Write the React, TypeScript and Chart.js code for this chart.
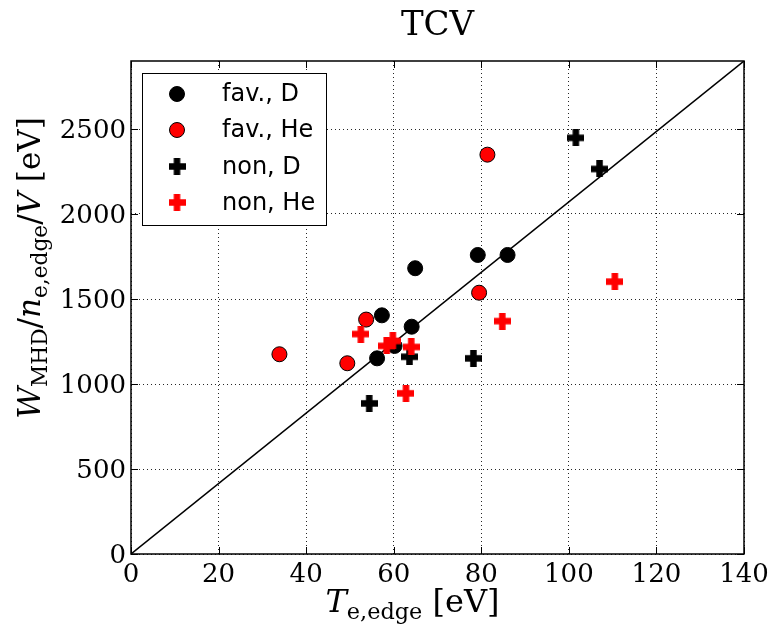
import React, { useEffect, useRef } from "react";
import { Chart, registerables } from "chart.js";

Chart.register(...registerables);

// ---- data ----
const favD_T = [56.2, 57.3, 60.2, 64.1, 64.9, 79.2, 86.0];
const favD_W = [1151, 1404, 1224, 1337, 1681, 1759, 1759];
const favHe_T = [33.9, 49.4, 53.7, 79.5, 81.4];
const favHe_W = [1175, 1122, 1379, 1537, 2349];
const nonD_T = [54.4, 63.6, 78.2, 101.6, 107.0];
const nonD_W = [886, 1160, 1151, 2448, 2265];
const nonHe_T = [52.5, 58.4, 59.8, 64.0, 62.8, 84.8, 110.5];
const nonHe_W = [1294, 1224, 1253, 1218, 945, 1370, 1602];
const lineT = [0, 140];
const lineW = [0, 2900];
const xTicks = [0, 20, 40, 60, 80, 100, 120, 140];
const yTicks = [0, 500, 1000, 1500, 2000, 2500];
const seriesLabels = ["fav., D", "fav., He", "non, D", "non, He"];
const titleText = "TCV";

const SERIF = "'DejaVu Serif'";
const SANS = "'DejaVu Sans'";

function zip(xs: number[], ys: number[]) {
  return xs.map((x, i) => ({ x, y: ys[i] }));
}

function makeCross(color: string) {
  const c = document.createElement("canvas");
  const s = 17;
  const t = 6.5;
  c.width = s;
  c.height = s;
  const g = c.getContext("2d")!;
  g.fillStyle = color;
  const o = (s - t) / 2;
  g.fillRect(0, o, s, t);
  g.fillRect(o, 0, t, s);
  return c;
}

type Seg = { t: string; it?: boolean; sub?: boolean };

function drawRich(
  ctx: CanvasRenderingContext2D,
  segs: Seg[],
  size: number,
  cx: number,
  cy: number,
  rot: number
) {
  const fontFor = (s: Seg) =>
    `${s.it ? "italic " : ""}${s.sub ? size * 0.7 : size}px ${SERIF}`;
  const widths = segs.map((s) => {
    ctx.font = fontFor(s);
    return ctx.measureText(s.t).width;
  });
  const total = widths.reduce((a, b) => a + b, 0);
  ctx.save();
  ctx.translate(cx, cy);
  ctx.rotate(rot);
  ctx.fillStyle = "#000";
  ctx.textBaseline = "alphabetic";
  ctx.textAlign = "left";
  let x = -total / 2;
  segs.forEach((s, i) => {
    ctx.font = fontFor(s);
    ctx.fillText(s.t, x, s.sub ? size * 0.22 : 0);
    x += widths[i];
  });
  ctx.restore();
}

const decorPlugin = {
  id: "decor",
  afterDraw(chart: any) {
    const ctx: CanvasRenderingContext2D = chart.ctx;
    const a = chart.chartArea;
    const xs = chart.scales.x;
    const ys = chart.scales.y;

    // frame
    ctx.save();
    ctx.strokeStyle = "#000";
    ctx.lineWidth = 1.5;
    ctx.strokeRect(a.left, a.top, a.right - a.left, a.bottom - a.top);
    // inward ticks on all sides
    ctx.lineWidth = 1;
    const tl = 7;
    ctx.beginPath();
    xTicks.forEach((v) => {
      const px = Math.round(xs.getPixelForValue(v)) + 0.5;
      ctx.moveTo(px, a.bottom);
      ctx.lineTo(px, a.bottom - tl);
      ctx.moveTo(px, a.top);
      ctx.lineTo(px, a.top + tl);
    });
    yTicks.forEach((v) => {
      const py = Math.round(ys.getPixelForValue(v)) + 0.5;
      ctx.moveTo(a.left, py);
      ctx.lineTo(a.left + tl, py);
      ctx.moveTo(a.right, py);
      ctx.lineTo(a.right - tl, py);
    });
    ctx.stroke();
    ctx.restore();

    // title
    ctx.save();
    ctx.fillStyle = "#000";
    ctx.font = `34px ${SERIF}`;
    ctx.textAlign = "center";
    ctx.textBaseline = "alphabetic";
    ctx.fillText(titleText, (a.left + a.right) / 2, 35);
    ctx.restore();

    // axis labels
    drawRich(
      ctx,
      [
        { t: "T", it: true },
        { t: "e,edge", sub: true },
        { t: " [eV]" },
      ],
      32,
      (a.left + a.right) / 2 - 25,
      612,
      0
    );
    drawRich(
      ctx,
      [
        { t: "W", it: true },
        { t: "MHD", sub: true },
        { t: "/" },
        { t: "n", it: true },
        { t: "e,edge", sub: true },
        { t: "/" },
        { t: "V", it: true },
        { t: " [eV]" },
      ],
      31,
      40,
      268,
      -Math.PI / 2
    );

    // legend
    const lx = 142.5,
      ly = 73.5,
      lw = 184,
      lh = 152;
    ctx.save();
    ctx.fillStyle = "#fff";
    ctx.fillRect(lx, ly, lw, lh);
    ctx.strokeStyle = "#000";
    ctx.lineWidth = 1;
    ctx.strokeRect(lx, ly, lw, lh);
    const rowY = [94, 130, 166.5, 202.5];
    const mx = 177;
    chart.data.datasets.forEach((ds: any, i: number) => {
      if (i >= 4) return;
      const y = rowY[i];
      if (ds.pointStyle === "circle") {
        ctx.beginPath();
        ctx.arc(mx, y, ds.pointRadius, 0, Math.PI * 2);
        ctx.fillStyle = ds.backgroundColor;
        ctx.fill();
        ctx.lineWidth = 1;
        ctx.strokeStyle = "#000";
        ctx.stroke();
      } else {
        const img = ds.pointStyle as HTMLCanvasElement;
        ctx.drawImage(img, mx - img.width / 2, y - img.height / 2);
      }
      ctx.fillStyle = "#000";
      ctx.font = `24px ${SANS}`;
      ctx.textAlign = "left";
      ctx.textBaseline = "middle";
      ctx.fillText(ds.label, 222, y + 1);
    });
    ctx.restore();
  },
};

export default function App() {
  const ref = useRef<HTMLCanvasElement | null>(null);

  useEffect(() => {
    if (!ref.current) return;
    const blackCross = makeCross("#000000");
    const redCross = makeCross("#ff0000");
    const chart = new Chart(ref.current, {
      type: "scatter",
      data: {
        datasets: [
          {
            label: seriesLabels[0],
            data: zip(favD_T, favD_W),
            pointStyle: "circle",
            pointRadius: 7.5,
            backgroundColor: "#000000",
            borderColor: "#000000",
            borderWidth: 1,
            order: 4,
          },
          {
            label: seriesLabels[1],
            data: zip(favHe_T, favHe_W),
            pointStyle: "circle",
            pointRadius: 7.5,
            backgroundColor: "#ff0000",
            borderColor: "#000000",
            borderWidth: 1,
            order: 3,
          },
          {
            label: seriesLabels[2],
            data: zip(nonD_T, nonD_W),
            pointStyle: blackCross as any,
            pointRadius: 8,
            backgroundColor: "#000000",
            borderColor: "#000000",
            order: 2,
          },
          {
            label: seriesLabels[3],
            data: zip(nonHe_T, nonHe_W),
            pointStyle: redCross as any,
            pointRadius: 8,
            backgroundColor: "#ff0000",
            borderColor: "#ff0000",
            order: 1,
          },
          {
            type: "line" as any,
            label: "diag",
            data: zip(lineT, lineW),
            borderColor: "#000000",
            borderWidth: 1.5,
            pointRadius: 0,
            showLine: true,
            fill: false,
            order: 10,
          } as any,
        ],
      },
      options: {
        responsive: false,
        animation: false,
        devicePixelRatio: 1,
        layout: { padding: { left: 0, top: 61, right: 31, bottom: 0 } },
        plugins: {
          legend: { display: false },
          title: { display: false },
          tooltip: { enabled: false },
        },
        scales: {
          x: {
            type: "linear",
            min: 0,
            max: 140,
            afterBuildTicks: (s: any) => {
              s.ticks = xTicks.map((v) => ({ value: v }));
            },
            afterFit: (s: any) => {
              s.height = 77;
            },
            ticks: {
              color: "#000",
              font: { family: SERIF, size: 26 },
              padding: 6,
              maxRotation: 0,
              callback: (v: any) => String(v),
            },
            grid: {
              color: "rgba(0,0,0,0.85)",
              lineWidth: 1,
              drawTicks: false,
            },
            border: { display: false, dash: [1, 3] },
          },
          y: {
            type: "linear",
            min: 0,
            max: 2900,
            afterBuildTicks: (s: any) => {
              s.ticks = yTicks.map((v) => ({ value: v }));
            },
            afterFit: (s: any) => {
              s.width = 131;
            },
            ticks: {
              color: "#000",
              font: { family: SERIF, size: 26 },
              padding: 5,
              labelOffset: 2,
              callback: (v: any) => String(v),
            },
            grid: {
              color: "rgba(0,0,0,0.85)",
              lineWidth: 1,
              drawTicks: false,
            },
            border: { display: false, dash: [1, 3] },
          },
        },
      },
      plugins: [decorPlugin],
    });
    return () => chart.destroy();
  }, []);

  return (
    <div
      style={{
        position: "fixed",
        left: 0,
        top: 0,
        width: 775,
        height: 631,
        background: "#fff",
      }}
    >
      <canvas ref={ref} width={775} height={631} style={{ width: 775, height: 631 }} />
    </div>
  );
}
